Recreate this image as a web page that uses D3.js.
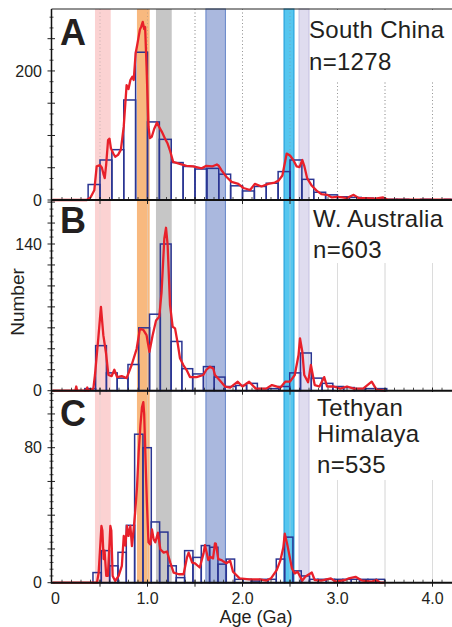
<!DOCTYPE html>
<html><head><meta charset="utf-8">
<script src="https://cdn.jsdelivr.net/npm/d3@7"></script>
<style>
body{margin:0;background:#fff}
svg{display:block}
text{font-family:"Liberation Sans",Arial,Helvetica,sans-serif;fill:#231f20}
</style>
</head><body>
<svg id="chart" width="452" height="627"></svg>
<script>
// ---------------- DATA ----------------
const ageTicks = [0, 1, 2, 3, 4];
const ageTickLabels = ["0", "1.0", "2.0", "3.0", "4.0"];
const gridAges = [0.5, 1, 1.5, 2, 2.5, 3, 3.5, 4];

// age bands (Ga)
const bandNames = ["pink", "orange", "gray", "blue", "cyan", "lavender"];
const bandFrom  = [0.447, 0.889, 1.089, 1.615, 2.437, 2.595];
const bandTo    = [0.613, 1.023, 1.255, 1.820, 2.542, 2.700];

// panel A : South China
const labelA = ["South China", "n=1278"];
const binStartA = 0.375, binWidthA = 0.125;
const countsA = [24,62,78,155,229,121,94,58,52,48,49,40,22,14,21,26,44,62,32,12,8,5,4,3,2,1,1,0,1,0,1];
const yTicksA = [0, 200];
const kdeA = [[0,0],[0.36,0],[0.40,4],[0.44,15],[0.465,52],[0.5,54],[0.52,50],[0.535,41],[0.55,34],[0.565,55],[0.585,93],[0.6,95],[0.615,80],[0.64,72],[0.66,67],[0.69,70],[0.72,78],[0.75,114],[0.78,178],[0.8,172],[0.82,186],[0.84,191],[0.855,186],[0.875,227],[0.895,243],[0.92,264],[0.935,269],[0.95,276],[0.965,265],[0.975,268],[0.99,207],[1.01,114],[1.025,96],[1.045,98],[1.07,110],[1.1,120],[1.12,114],[1.15,106],[1.185,95],[1.21,88],[1.236,77],[1.27,59],[1.34,56],[1.41,53],[1.48,52],[1.57,49],[1.62,53],[1.68,52],[1.73,55],[1.75,53],[1.78,46],[1.83,36],[1.885,28],[1.956,25],[2.01,18.6],[2.08,15.5],[2.13,25],[2.2,21],[2.27,25],[2.34,27],[2.38,30],[2.42,38],[2.465,72],[2.5,69],[2.535,62],[2.57,52],[2.6,51],[2.63,62],[2.65,53],[2.68,34],[2.73,22],[2.78,14.5],[2.83,9],[2.89,8],[2.94,4],[3.0,5],[3.05,4],[3.1,3],[3.17,8],[3.22,3],[3.3,3],[3.4,2],[3.48,4],[3.52,1],[3.6,0.5],[4.2,0.5]];

// panel B : W. Australia
const labelB = ["W. Australia", "n=603"];
const binStartB = 0.3405, binWidthB = 0.1135;
const countsB = [2,43,17,12,25,60,73,140,47,21,16,23,13,4,5,7,2,2,4,17,36,12,7,4,3,2,2,2];
const yTicksB = [0, 140];
const kdeB = [[0,0],[0.24,0],[0.25,4],[0.26,0],[0.35,0],[0.366,3],[0.375,0],[0.43,2],[0.447,15],[0.482,50],[0.51,80],[0.535,53],[0.563,36],[0.588,15],[0.623,14],[0.651,20],[0.68,13],[0.728,14],[0.78,12],[0.833,24.5],[0.886,40],[0.92,59],[0.956,58],[0.99,53],[1.02,37],[1.054,53],[1.09,67],[1.124,70.6],[1.148,94],[1.177,145],[1.195,155.5],[1.212,139],[1.237,82],[1.265,61],[1.29,59.5],[1.318,45],[1.342,31],[1.377,24.5],[1.412,19.7],[1.447,13],[1.517,13],[1.587,15],[1.62,20],[1.658,23],[1.693,21],[1.71,15],[1.76,10],[1.816,4],[1.87,3],[1.95,8.6],[2.0,4],[2.07,8.6],[2.14,2],[2.25,2],[2.31,5.4],[2.4,3],[2.45,8.6],[2.5,8.6],[2.55,15],[2.59,34],[2.605,50],[2.63,37],[2.65,15],[2.69,8],[2.72,24.5],[2.76,5.4],[2.81,4],[2.86,13],[2.89,4],[2.96,4],[3.03,2],[3.1,4],[3.17,2],[3.27,2],[3.36,8.6],[3.41,1],[3.5,0]];

// panel C : Tethyan Himalaya
const labelC = ["Tethyan", "Himalaya", "n=535"];
const binStartC = 0.426, binWidthC = 0.0877;
const countsC = [6,19,10,18,34,88,80,36,30,10,3,19,15,22,21,11,14,2,2,1,2,2,14,27,7,4,2,2,2,2,2,2,2,2,2];
const yTicksC = [0, 80];
const kdeC = [[0,0],[0.468,0],[0.486,6],[0.515,33.6],[0.525,31],[0.538,14],[0.548,19],[0.566,4],[0.583,4],[0.609,33.6],[0.619,31],[0.633,4],[0.66,1],[0.696,4],[0.73,10],[0.75,27.7],[0.767,22],[0.784,33.6],[0.8,27.7],[0.82,33.6],[0.836,21.7],[0.854,31.6],[0.87,41.5],[0.89,57],[0.907,77],[0.925,93],[0.942,104],[0.956,107],[0.965,100],[0.977,77],[0.994,47],[1.01,24],[1.03,22.7],[1.047,31.6],[1.065,25.7],[1.082,24],[1.11,29.6],[1.135,19.8],[1.17,17.8],[1.205,18.5],[1.24,11.9],[1.275,6],[1.33,5],[1.38,5],[1.415,14.8],[1.433,17.8],[1.47,11.9],[1.5,11.5],[1.55,9],[1.59,17.4],[1.605,22.3],[1.64,13.4],[1.66,15.4],[1.69,14.4],[1.71,23.3],[1.72,23],[1.745,14],[1.78,13.4],[1.8,12.5],[1.83,11.5],[1.87,13],[1.9,6.5],[1.97,2.6],[2.07,2],[2.18,2],[2.25,1.2],[2.3,2.6],[2.36,7.5],[2.4,13.4],[2.43,21],[2.445,29],[2.47,23],[2.5,14.4],[2.52,8.5],[2.55,5.5],[2.58,6.5],[2.63,1.2],[2.66,3.5],[2.73,6],[2.76,1.6],[2.83,1.2],[2.93,2.6],[2.98,0.6],[3.08,1.6],[3.12,2.6],[3.19,3.5],[3.26,1.2],[3.36,0.6],[3.41,1.6],[3.45,0],[3.5,0]];

const axisTitleX = "Age (Ga)";
const axisTitleY = "Number";

// ---------------- STYLE / LAYOUT ----------------
const bandStyle = {
  pink:     {fill:"#fbd2d2", stroke:"none"},
  orange:   {fill:"#f8b97f", stroke:"none"},
  gray:     {fill:"#c6c6c6", stroke:"none"},
  blue:     {fill:"#aab8de", stroke:"#6383c8"},
  cyan:     {fill:"#56c6ef", stroke:"#1d9bd8"},
  lavender: {fill:"#dfdcef", stroke:"#c3bfe0"}
};
const W = 452, H = 627;
const xLeft = 52.5, xRight = 451.5;
const panels = [
  {letter:"A", lines:labelA, binStart:binStartA, binWidth:binWidthA, counts:countsA, kde:kdeA, yTicks:yTicksA,
   yMax:296, top:9, bottom:200, major:50, minorN:3, grid:"dot",
   letterY:45, textX:309, textY:[38,70], box:[310.5,10,142,70]},
  {letter:"B", lines:labelB, binStart:binStartB, binWidth:binWidthB, counts:countsB, kde:kdeB, yTicks:yTicksB,
   yMax:182, top:200, bottom:390.7, major:20, minorN:3, grid:"solid",
   letterY:233, textX:313, textY:[227,258], box:[310.5,201,142,62]},
  {letter:"C", lines:labelC, binStart:binStartC, binWidth:binWidthC, counts:countsC, kde:kdeC, yTicks:yTicksC,
   yMax:113.6, top:391, bottom:582.7, major:20, minorN:5, grid:"solid",
   letterY:426, textX:317, textY:[416,442,473], box:[311,392,141,88]}
];

const svg = d3.select("#chart");
const x = d3.scaleLinear().domain([0, 4.2]).range([xLeft, xRight]);
const plotTop = panels[0].top, plotBottom = panels[2].bottom;

// grid lines per panel
panels.forEach(p => {
  svg.append("g").selectAll("line").data(gridAges).join("line")
    .attr("x1", d => x(d)).attr("x2", d => x(d))
    .attr("y1", p.top).attr("y2", p.bottom)
    .attr("stroke", p.grid === "dot" ? "#9a9a9a" : "#dcdcdc")
    .attr("stroke-width", 0.9)
    .attr("stroke-dasharray", p.grid === "dot" ? "1,2.5" : null);
});

// bands spanning all panels
const bands = bandNames.map((n, i) => ({name:n, from:bandFrom[i], to:bandTo[i]}));
svg.append("g").selectAll("rect").data(bands).join("rect")
  .attr("x", d => x(d.from)).attr("width", d => x(d.to) - x(d.from))
  .attr("y", plotTop).attr("height", plotBottom - plotTop)
  .attr("fill", d => bandStyle[d.name].fill)
  .attr("stroke", d => bandStyle[d.name].stroke)
  .attr("stroke-width", 1);

// grid lines drawn again lightly over bands
panels.forEach(p => {
  svg.append("g").selectAll("line").data(gridAges).join("line")
    .attr("x1", d => x(d)).attr("x2", d => x(d))
    .attr("y1", p.top).attr("y2", p.bottom)
    .attr("stroke", p.grid === "dot" ? "#8a8a8a" : "#d8d8d8")
    .attr("stroke-opacity", 0.5)
    .attr("stroke-width", 0.9)
    .attr("stroke-dasharray", p.grid === "dot" ? "1,2.5" : null);
});

panels.forEach(p => {
  const y = d3.scaleLinear().domain([0, p.yMax]).range([p.bottom, p.top]);
  const g = svg.append("g");

  // white box behind label text
  g.append("rect").attr("x", p.box[0]).attr("y", p.box[1]).attr("width", p.box[2]).attr("height", p.box[3]).attr("fill", "#fff");

  // histogram
  const bins = p.counts.map((c, i) => ({x0: p.binStart + i * p.binWidth, x1: p.binStart + (i + 1) * p.binWidth, c}));
  g.append("g").selectAll("rect").data(bins.filter(b => b.c > 0)).join("rect")
    .attr("x", d => x(d.x0)).attr("width", d => x(d.x1) - x(d.x0))
    .attr("y", d => y(d.c)).attr("height", d => y(0) - y(d.c))
    .attr("fill", "none").attr("stroke", "#2a3592").attr("stroke-width", 1.5);

  // KDE curve
  const line = d3.line().x(d => x(d[0])).y(d => y(d[1]));
  g.append("path").datum(p.kde).attr("d", line)
    .attr("fill", "none").attr("stroke", "#e8202a").attr("stroke-width", 2.3)
    .attr("stroke-linejoin", "round");

  // y ticks (major + minor)
  const majors = d3.range(0, p.yMax + 0.001, p.major);
  const minors = [];
  majors.forEach(m => { for (let k = 1; k < p.minorN; k++) { const v = m + k * p.major / p.minorN; if (v < p.yMax) minors.push(v); } });
  g.append("g").selectAll("line").data(majors).join("line")
    .attr("x1", xLeft - 5).attr("x2", xLeft + 2.5)
    .attr("y1", d => y(d)).attr("y2", d => y(d))
    .attr("stroke", "#222").attr("stroke-width", 1);
  g.append("g").selectAll("line").data(minors).join("line")
    .attr("x1", xLeft - 3).attr("x2", xLeft + 1)
    .attr("y1", d => y(d)).attr("y2", d => y(d))
    .attr("stroke", "#222").attr("stroke-width", 0.8);
  g.append("g").selectAll("text").data(p.yTicks).join("text")
    .attr("x", 42).attr("y", d => y(d)).attr("dy", "0.36em")
    .attr("text-anchor", "end").attr("font-size", 16).text(d => d);

  // x ticks on zero line
  const xMinor = d3.range(0.1, 4.2, 0.1).map(v => +v.toFixed(2));
  g.append("g").selectAll("line").data(xMinor).join("line")
    .attr("x1", d => x(d)).attr("x2", d => x(d))
    .attr("y1", p.bottom - 3).attr("y2", p.bottom)
    .attr("stroke", "#222").attr("stroke-width", 0.8);
  g.append("g").selectAll("line").data(gridAges).join("line")
    .attr("x1", d => x(d)).attr("x2", d => x(d))
    .attr("y1", p.bottom - 3).attr("y2", p.bottom + 4)
    .attr("stroke", "#222").attr("stroke-width", 1);

  // zero baseline
  g.append("line").attr("x1", xLeft - 1).attr("x2", W).attr("y1", p.bottom).attr("y2", p.bottom)
    .attr("stroke", "#111").attr("stroke-width", 2);

  // panel letter
  g.append("text").attr("x", 60).attr("y", p.letterY).attr("font-size", 36).attr("font-weight", "bold").text(p.letter);

  // region label
  g.append("g").selectAll("text").data(p.lines).join("text")
    .attr("x", p.textX).attr("y", (d, i) => p.textY[i])
    .attr("font-size", 24).attr("letter-spacing", 0.3).text(d => d);
});

// frame: top border and left axis
svg.append("line").attr("x1", xLeft - 1).attr("x2", W).attr("y1", plotTop).attr("y2", plotTop)
  .attr("stroke", "#222").attr("stroke-width", 1);
svg.append("line").attr("x1", xLeft - 1).attr("x2", xLeft - 1).attr("y1", plotTop).attr("y2", plotBottom + 1)
  .attr("stroke", "#111").attr("stroke-width", 1.5);

// bottom x axis labels
svg.append("g").selectAll("text").data(ageTicks).join("text")
  .attr("x", (d, i) => x(d) + (i === 0 ? 3 : 0)).attr("y", 603.5)
  .attr("text-anchor", "middle").attr("font-size", 16)
  .text((d, i) => ageTickLabels[i]);

svg.append("text").attr("x", 256).attr("y", 623).attr("text-anchor", "middle")
  .attr("font-size", 18).text(axisTitleX);

svg.append("text").attr("transform", "translate(24,302) rotate(-90)")
  .attr("text-anchor", "middle").attr("font-size", 19).text(axisTitleY);
</script>
</body></html>
